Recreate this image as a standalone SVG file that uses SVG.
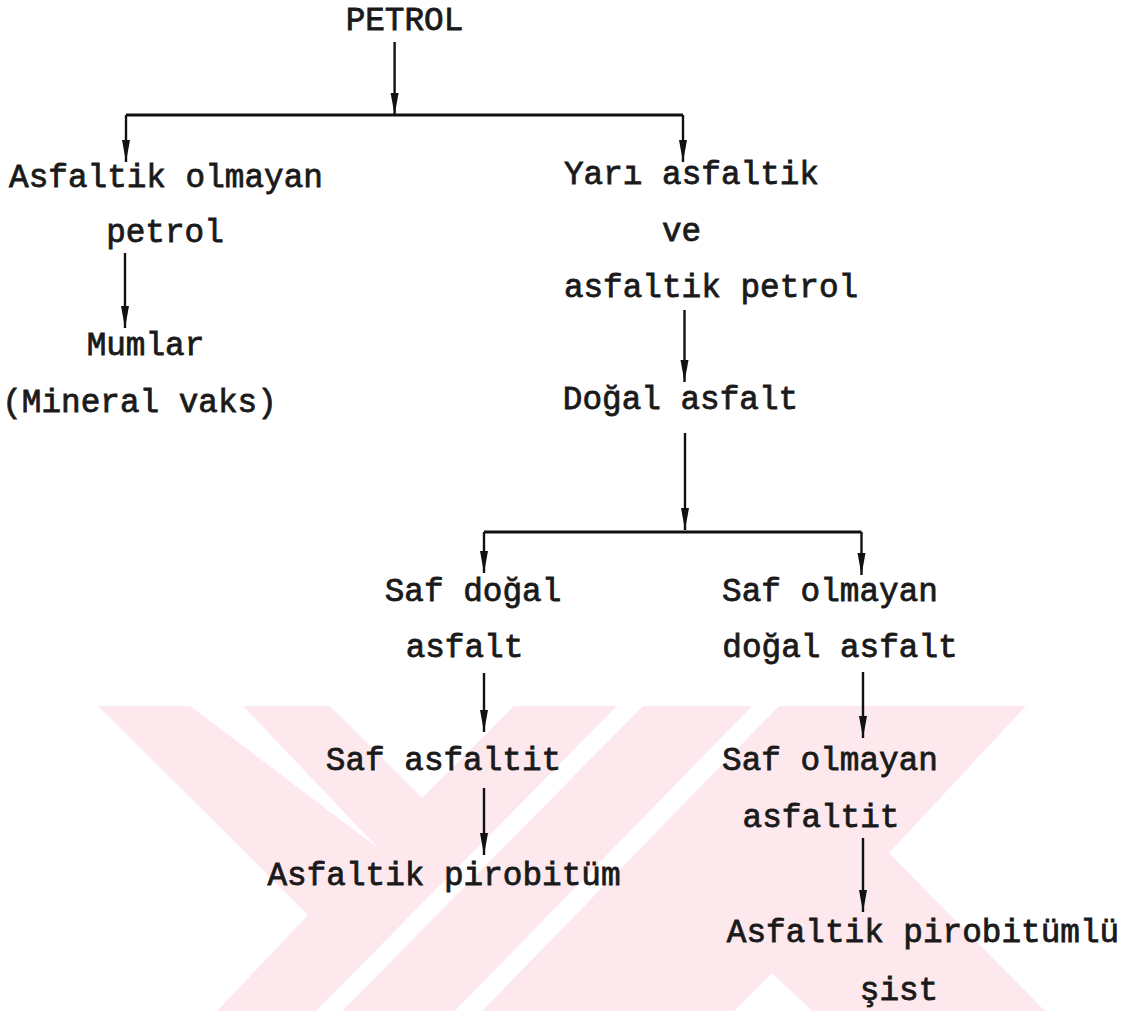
<svg xmlns="http://www.w3.org/2000/svg" width="1124" height="1011" viewBox="0 0 1124 1011">
  <style>
    .t { font-family: "Liberation Mono", "Courier New", monospace; font-size: 32.7px; font-weight: normal; fill: #1a1a1a; stroke: #1a1a1a; stroke-width: 0.8; text-anchor: middle; }
    .c { stroke: #111; stroke-width: 2.4; fill: none; }
    .bar { stroke: #111; stroke-width: 3.2; fill: none; }
    .wm { fill: #fde9ed; }
    .gap { fill: #ffffff; }
  </style>
  <defs>
    <marker id="ah" markerUnits="userSpaceOnUse" markerWidth="26" markerHeight="10" refX="22" refY="4" orient="auto">
      <path d="M0,0 L22,4 L0,8 z" fill="#111"/>
    </marker>
  </defs>
  <rect width="1124" height="1011" fill="#ffffff"/>

  <g id="watermark">
    <polygon class="wm" points="98,706 1026,706 889,853 1045,1011 217,1011 308,915"/>
    <polygon class="gap" points="190,706 243,706 378,848"/>
    <polygon class="gap" points="330,706 514,706 422,798"/>
    <polygon class="gap" points="316,1011 342,1011 643,706 617,706"/>
    <polygon class="gap" points="455,1011 482,1011 779,706 752,706"/>
    <polygon class="gap" points="734,1011 772,973 812,1011"/>
  </g>

  <g id="connectors">
    <line class="c" x1="394.6" y1="42" x2="394.6" y2="115" marker-end="url(#ah)"/>
    <line class="bar" x1="126" y1="115" x2="683" y2="115"/>
    <line class="c" x1="126" y1="115" x2="126" y2="162" marker-end="url(#ah)"/>
    <line class="c" x1="683" y1="115" x2="683" y2="162" marker-end="url(#ah)"/>
    <line class="c" x1="125" y1="253" x2="125" y2="328" marker-end="url(#ah)"/>
    <line class="c" x1="684.5" y1="310" x2="684.5" y2="382" marker-end="url(#ah)"/>
    <line class="c" x1="685" y1="433" x2="685" y2="530" marker-end="url(#ah)"/>
    <line class="bar" x1="484" y1="532" x2="861.5" y2="532"/>
    <line class="c" x1="484" y1="532" x2="484" y2="573" marker-end="url(#ah)"/>
    <line class="c" x1="861.5" y1="532" x2="861.5" y2="575" marker-end="url(#ah)"/>
    <line class="c" x1="484" y1="673" x2="484" y2="732" marker-end="url(#ah)"/>
    <line class="c" x1="484" y1="788" x2="484" y2="855" marker-end="url(#ah)"/>
    <line class="c" x1="863" y1="672" x2="863" y2="738" marker-end="url(#ah)"/>
    <line class="c" x1="863" y1="838" x2="863" y2="912" marker-end="url(#ah)"/>
  </g>

  <g id="n-petrol"><text class="t" x="404.5" y="30">PETROL</text></g>
  <g id="n-asfaltik-olmayan">
    <text class="t" x="166" y="187">Asfaltik olmayan</text>
    <text class="t" x="165" y="242">petrol</text>
  </g>
  <g id="n-mumlar">
    <text class="t" x="145.5" y="355">Mumlar</text>
    <text class="t" x="139.5" y="412">(Mineral vaks)</text>
  </g>
  <g id="n-yari-asfaltik">
    <text class="t" x="691.5" y="184">Yarı asfaltik</text>
    <text class="t" x="681.5" y="241">ve</text>
    <text class="t" x="711" y="297">asfaltik petrol</text>
  </g>
  <g id="n-dogal-asfalt"><text class="t" x="680.5" y="409">Doğal asfalt</text></g>
  <g id="n-saf-dogal">
    <text class="t" x="473" y="601">Saf doğal</text>
    <text class="t" x="464.5" y="657">asfalt</text>
  </g>
  <g id="n-saf-olmayan-dogal">
    <text class="t" x="830" y="601">Saf olmayan</text>
    <text class="t" x="840" y="657">doğal asfalt</text>
  </g>
  <g id="n-saf-asfaltit"><text class="t" x="443.5" y="770">Saf asfaltit</text></g>
  <g id="n-asfaltik-pirobitum"><text class="t" x="444" y="885">Asfaltik pirobitüm</text></g>
  <g id="n-saf-olmayan-asfaltit">
    <text class="t" x="830" y="770">Saf olmayan</text>
    <text class="t" x="821" y="827">asfaltit</text>
  </g>
  <g id="n-pirobitumlu-sist">
    <text class="t" x="923" y="942">Asfaltik pirobitümlü</text>
    <text class="t" x="899" y="1000">şist</text>
  </g>
</svg>
